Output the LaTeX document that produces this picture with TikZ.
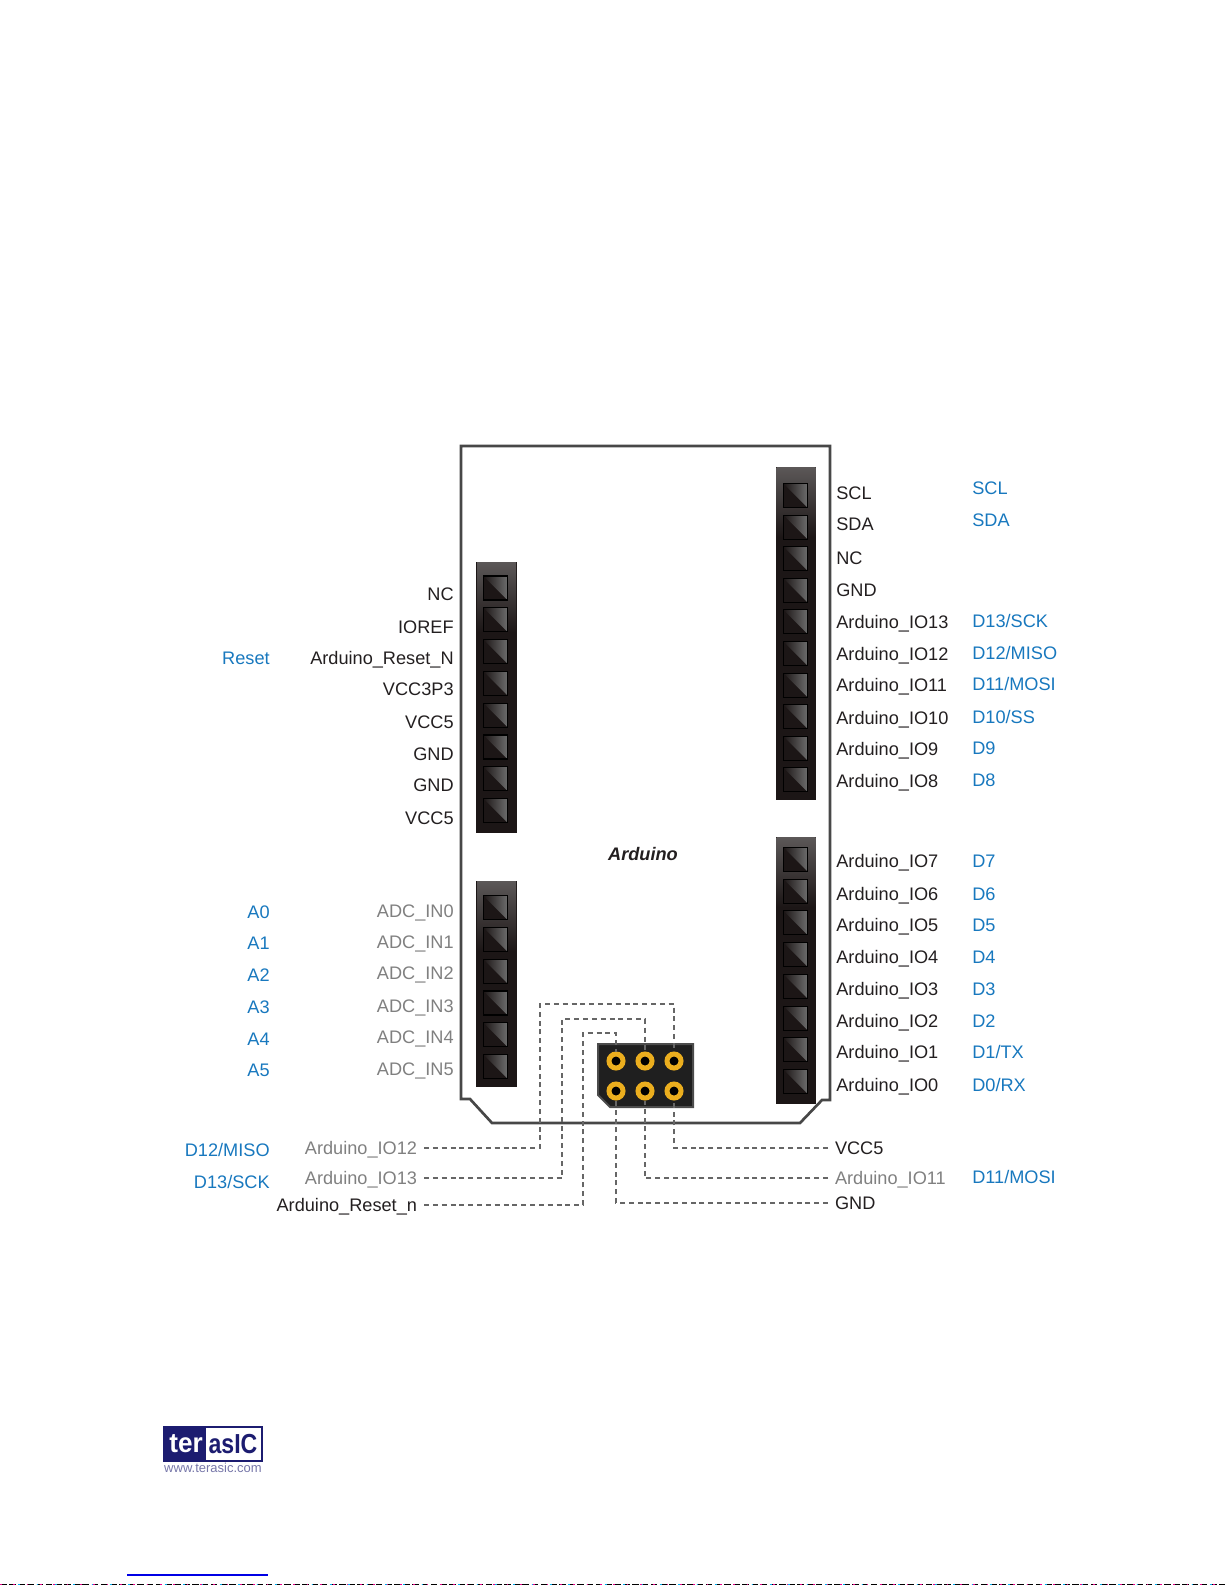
\documentclass[tikz,border=0pt]{standalone}
\usepackage{fontspec}
\setmainfont{Liberation Sans}
\usetikzlibrary{arrows.meta}
\definecolor{ink}{HTML}{231F20}
\definecolor{blu}{HTML}{1878BE}
\definecolor{gry}{HTML}{808080}
\definecolor{body}{HTML}{1C1616}
\definecolor{cap}{HTML}{5C5858}
\definecolor{navy}{HTML}{1C1C70}
\definecolor{gold}{HTML}{EBAE1E}
\newcommand{\pxu}{0.6pt}

\begin{document}
\begin{tikzpicture}[
  x=\pxu, y=-\pxu,
  lab/.style={inner sep=0pt, font=\fontsize{10.9}{12}\selectfont, text height=7.9pt, text depth=0pt, text=ink},
  bl/.style={lab, text=blu},
  gr/.style={lab, text=gry},
  housing/.style={rectangle, draw=body, line width=1pt, fill=body, inner sep=0pt, minimum width={39*\pxu}},
  housetop/.style={rectangle, anchor=north, inner sep=0pt, minimum width={39*\pxu}, minimum height={70*\pxu},
    top color=cap, bottom color=body},
  cell/.style={rectangle, draw=black, line width=0.7pt, fill=body, inner sep=0pt, minimum size={24*\pxu},
    path picture={\shade[left color=body, right color=gray!85!black]
      (path picture bounding box.north west) -- (path picture bounding box.north east)
      -- (path picture bounding box.south east) -- cycle;}},
  goldpin/.style={circle, draw=gold, line width=3pt, fill=black, inner sep=0pt, minimum size={14*\pxu}},
  link/.style={draw=black!60, line width=0.65pt, dash pattern=on 3pt off 2.3pt},
  leftend/.style={anchor=east, outer xsep={7*\pxu}},
  rightend/.style={anchor=west, outer xsep={7*\pxu}}
]
\useasboundingbox (0,0) rectangle (1225,1585);

\draw[line width=1.6pt, draw=black!72] (461,446) -- (830,446) -- (830,1100) -- (822,1100) -- (800,1123)
  -- (492,1123) -- (470,1099) -- (461,1099) -- cycle;

\node[housing, minimum height={270*\pxu}] (stripa) at (496.5,697.5) {};
\node[housing, minimum height={205*\pxu}] (stripb) at (496.5,984) {};
\node[housing, minimum height={332*\pxu}] (stripc) at (796,633.5) {};
\node[housing, minimum height={266*\pxu}] (stripd) at (796,970.5) {};
\node[housetop] (topa) at (stripa.north) {};
\node[housetop] (topb) at (stripb.north) {};
\node[housetop] (topc) at (stripc.north) {};
\node[housetop] (topd) at (stripd.north) {};

\foreach \i in {0,...,7} \node[cell] (ca\i) at (495.5,588+31.8*\i) {};
\foreach \i in {0,...,5} \node[cell] (cb\i) at (495.5,907.8+31.75*\i) {};
\foreach \i in {0,...,9} \node[cell] (cc\i) at (795.5,495.5+31.6*\i) {};
\foreach \i in {0,...,7} \node[cell] (cd\i) at (795.5,859.4+31.75*\i) {};

\foreach \y/\t [count=\i] in {594.3/NC, 626.6/IOREF, 658/Arduino\_Reset\_N, 689.3/VCC3P3, 721.6/VCC5, 754/GND, 785/GND, 817.6/VCC5}
  \node[lab, anchor=east] (pa\i) at (454,\y) {\t};
\foreach \y/\t [count=\i] in {910.6/ADC\_IN0, 942/ADC\_IN1, 973.3/ADC\_IN2, 1005.6/ADC\_IN3, 1037/ADC\_IN4, 1069/ADC\_IN5}
  \node[gr, anchor=east] (pb\i) at (454,\y) {\t};
\foreach \y/\t [count=\i] in {911.6/A0, 943/A1, 975/A2, 1006.6/A3, 1039/A4, 1070/A5, 658/Reset}
  \node[bl, anchor=east] (qb\i) at (270,\y) {\t};

\foreach \y/\t [count=\i] in {493/SCL, 524/SDA, 558/NC, 590/GND, 621.6/Arduino\_IO13, 654/Arduino\_IO12, 685/Arduino\_IO11, 717.6/Arduino\_IO10, 749/Arduino\_IO9, 781/Arduino\_IO8,
    861/Arduino\_IO7, 893.5/Arduino\_IO6, 925/Arduino\_IO5, 957/Arduino\_IO4, 988.5/Arduino\_IO3, 1021/Arduino\_IO2, 1052/Arduino\_IO1, 1084.5/Arduino\_IO0}
  \node[lab, anchor=west] (pc\i) at (836,\y) {\t};
\foreach \y/\t [count=\i] in {488/SCL, 520/SDA, 620.5/{D13/SCK}, 653/{D12/MISO}, 684/{D11/MOSI}, 716.6/{D10/SS}, 748/D9, 780/D8,
    861/D7, 893.5/D6, 925/D5, 957/D4, 988.5/D3, 1021/D2, 1052/{D1/TX}, 1084.5/{D0/RX}}
  \node[bl, anchor=west] (qc\i) at (972,\y) {\t};

\node[lab, font=\fontsize{10.9}{12}\selectfont\bfseries\itshape] (title) at (643,854) {Arduino};

\draw[fill=black!88, draw=black!70, line width=1.2pt] (598,1044) -- (693,1044) -- (693,1107) -- (610,1107) -- (598,1095) -- cycle;
\foreach \x [count=\i] in {616,645,674} {
  \node[goldpin] (up\i) at (\x,1061) {};
  \node[goldpin] (lo\i) at (\x,1091) {};
}

\node[gr, leftend] (ioa) at (424,1148) {Arduino\_IO12};
\node[gr, leftend] (iob) at (424,1178) {Arduino\_IO13};
\node[lab, leftend] (rstn) at (424,1205) {Arduino\_Reset\_n};
\node[lab, rightend] (vcc) at (828,1148) {VCC5};
\node[gr, rightend] (ioc) at (828,1178) {Arduino\_IO11};
\node[lab, rightend] (gnd) at (828,1203) {GND};
\node[bl, anchor=east] (dmiso) at (270,1150) {D12/MISO};
\node[bl, anchor=east] (dsck) at (270,1182) {D13/SCK};
\node[bl, anchor=west] (dmosi) at (972,1177) {D11/MOSI};

\coordinate (ka) at (540,1004);
\coordinate (kb) at (562,1019);
\coordinate (kc) at (583,1033);
\draw[link] (ioa) -| (ka) -| (up3);
\draw[link] (iob) -| (kb) -| (up2);
\draw[link] (rstn) -| (kc) -| (up1);
\draw[link] (vcc) -| (lo3);
\draw[link] (ioc) -| (lo2);
\draw[link] (gnd) -| (lo1);

\node[rectangle, fill=navy, inner sep=0pt, minimum width={100*\pxu}, minimum height={36*\pxu}] (logo) at (213,1444) {};
\node[rectangle, fill=white, inner sep=0pt, minimum width={55*\pxu}, minimum height={32*\pxu}] (logow) at (233.5,1444) {};
\node[inner sep=0pt, text=white, xscale=0.95, font=\fontsize{16.5}{16.5}\selectfont\bfseries] (logot) at (186,1444) {ter};
\node[inner sep=0pt, text=navy, xscale=0.84, font=\fontsize{16.5}{16.5}\selectfont\bfseries] (logoa) at (233,1444) {asIC};
\node[inner sep=0pt, text=navy!60!white, font=\fontsize{7.8}{8}\selectfont] (logou) at (213,1468) {www.terasic.com};

\coordinate (ula) at (127,1575);
\coordinate (ulb) at (268,1575);
\draw[draw=blue!90!black, line width=0.8pt] (ula) -- (ulb);
\coordinate (ba) at (0,1584.4);
\coordinate (bb) at (1225,1584.4);
\draw[black, line width=0.7pt, dash pattern=on 4pt off 1.5pt] (ba) -- (bb);
\draw[cyan, line width=0.7pt, dash pattern=on 1pt off 10pt] (ba) -- (bb);
\draw[magenta, line width=0.7pt, dash pattern=on 1pt off 7pt] (ba) -- (bb);
\end{tikzpicture}
\end{document}
